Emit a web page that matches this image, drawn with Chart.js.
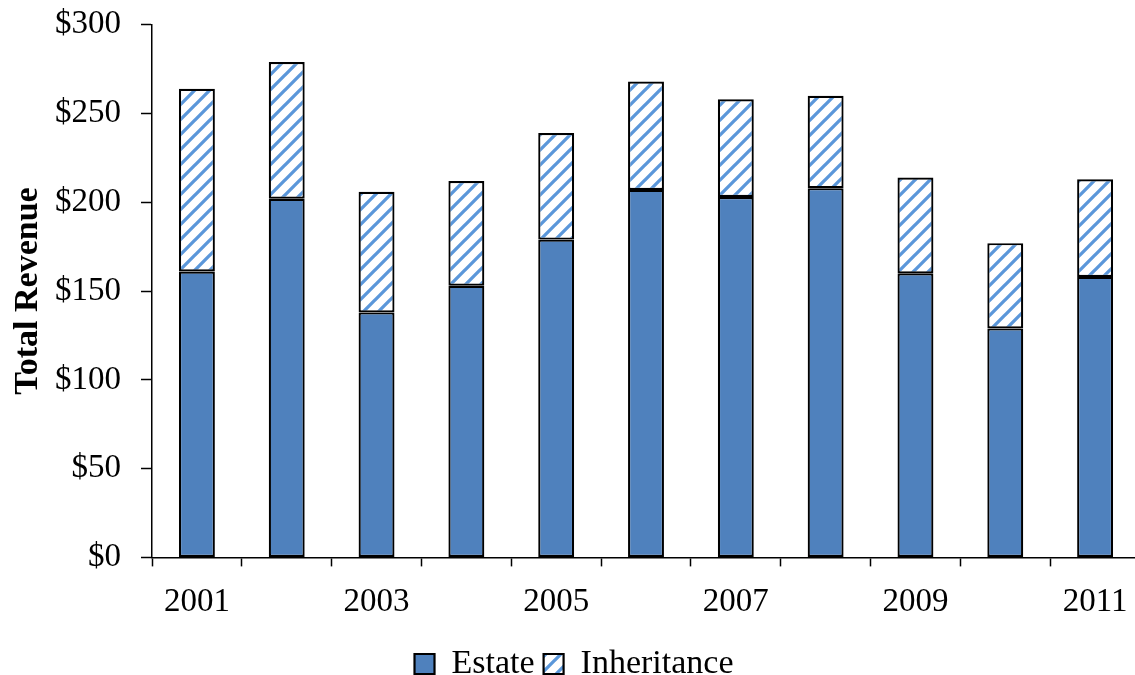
<!DOCTYPE html>
<html>
<head>
<meta charset="utf-8">
<script src="https://cdn.jsdelivr.net/npm/chart.js@4"></script>
<style>
  html, body { margin: 0; padding: 0; background: #fff; overflow: hidden; }
  #wrap { position: relative; top: -15px; width: 1145px; height: 708px; }
</style>
</head>
<body>
<div id="wrap"><canvas id="revenueChart"></canvas></div>
<script>
// Data
const years = ['2001', '2002', '2003', '2004', '2005', '2006', '2007', '2008', '2009', '2010', '2011'];
const estate = [161, 202, 138, 153, 179, 207, 203, 208, 160, 129, 158];
const inheritance = [103, 77, 68, 59, 60, 61, 55, 52, 54, 48, 55];
const yTicks = [0, 50, 100, 150, 200, 250, 300];

const SERIF = '"Liberation Serif", "Times New Roman", serif';

// Diagonal stripe fill for the inheritance series
function makeStripes() {
    const size = 15;
    const c = document.createElement('canvas');
    c.width = size;
    c.height = size;
    const g = c.getContext('2d');
    g.fillStyle = '#ffffff';
    g.fillRect(0, 0, size, size);
    g.strokeStyle = '#5b97da';
    g.lineWidth = 3.3;
    g.beginPath();
    g.moveTo(-size / 2, size / 2); g.lineTo(size / 2, -size / 2);
    g.moveTo(0, size); g.lineTo(size, 0);
    g.moveTo(size / 2, size * 1.5); g.lineTo(size * 1.5, size / 2);
    g.stroke();
    return g.createPattern(c, 'repeat');
}

const stripes = makeStripes();

new Chart(document.getElementById('revenueChart').getContext('2d'), {
    type: 'bar',
    data: {
        labels: years,
        datasets: [
            {
                label: 'Estate',
                data: estate,
                backgroundColor: '#4f81bd',
                borderColor: '#000000',
                borderWidth: 2.2,
                borderSkipped: false,
                barPercentage: 0.4,
                categoryPercentage: 1
            },
            {
                label: 'Inheritance',
                data: inheritance,
                backgroundColor: stripes,
                borderColor: '#000000',
                borderWidth: 2.2,
                borderSkipped: false,
                barPercentage: 0.4,
                categoryPercentage: 1
            }
        ]
    },
    options: {
        responsive: true,
        maintainAspectRatio: false,
        animation: false,
        layout: { padding: { top: 4, right: 5, left: 8, bottom: 2 } },
        plugins: {
            tooltip: { enabled: false },
            legend: {
                position: 'bottom',
                labels: {
                    color: '#000',
                    font: { family: SERIF, size: 34 },
                    boxWidth: 20,
                    boxHeight: 20,
                    padding: 9,
                    useBorderRadius: false
                }
            }
        },
        scales: {
            x: {
                stacked: true,
                offset: true,
                border: { color: '#000', width: 1.5 },
                grid: {
                    offset: true,
                    drawOnChartArea: false,
                    drawTicks: true,
                    tickLength: 9,
                    tickWidth: 1.5,
                    tickColor: '#000'
                },
                ticks: {
                    color: '#000',
                    font: { family: SERIF, size: 33 },
                    autoSkip: false,
                    maxRotation: 0,
                    padding: 16,
                    callback: function (value, index) {
                        return index % 2 === 0 ? years[index] : '';
                    }
                }
            },
            y: {
                stacked: true,
                min: 0,
                max: 300,
                afterBuildTicks: function (axis) {
                    axis.ticks = yTicks.map(v => ({ value: v }));
                },
                afterFit: function (axis) {
                    axis.width = 144;
                },
                border: { color: '#000', width: 1.5 },
                grid: {
                    drawOnChartArea: false,
                    drawTicks: true,
                    tickLength: 11,
                    tickWidth: 1.5,
                    tickColor: '#000'
                },
                ticks: {
                    color: '#000',
                    font: { family: SERIF, size: 33 },
                    padding: 20,
                    callback: v => '$' + v
                },
                title: {
                    display: true,
                    text: 'Total Revenue',
                    color: '#000',
                    font: { family: SERIF, size: 34, weight: 'bold' },
                    padding: { top: 0, bottom: 0 }
                }
            }
        }
    }
});
</script>
</body>
</html>
